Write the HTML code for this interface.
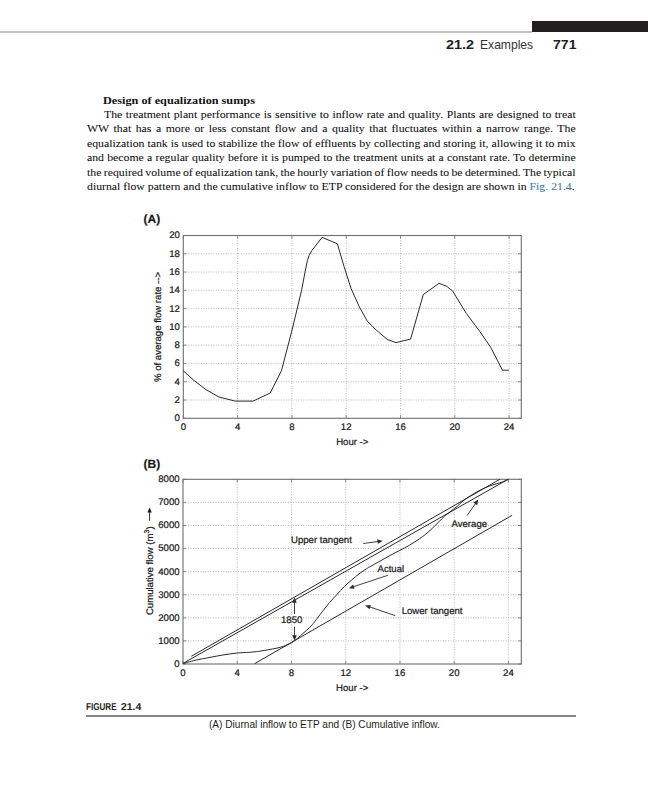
<!DOCTYPE html>
<html><head><meta charset="utf-8"><style>
html,body{margin:0;padding:0;background:#fff;}
body{width:648px;height:800px;position:relative;overflow:hidden;}
.bar{position:absolute;left:532px;top:21.1px;width:116px;height:10.6px;background:#231f20;}
.rule{position:absolute;left:0;top:31px;width:532px;height:2px;background:#c4c4c4;}
.hdr{position:absolute;top:0;left:0;font-family:"Liberation Sans",sans-serif;color:#231f20;white-space:nowrap;line-height:1;}
.bl{position:absolute;font-family:"Liberation Serif",serif;font-size:11.1px;line-height:11.1px;color:#111;white-space:nowrap;text-align:justify;text-align-last:justify;transform-origin:0 0;-webkit-text-stroke:0.07px #111;}
.bl.last{text-align:left;text-align-last:left;}
.lk{color:#3a86c4;}
.hd{position:absolute;font-family:"Liberation Serif",serif;font-weight:bold;font-size:11.3px;line-height:11.3px;color:#111;white-space:nowrap;transform-origin:0 0;transform:scaleX(1.083);}
svg{position:absolute;left:0;top:0;}
svg text{text-rendering:geometricPrecision;font-family:"Liberation Sans",sans-serif;font-size:9.6px;fill:#1a1a1a;stroke:#1a1a1a;stroke-width:0.22px;}
.fig{text-rendering:geometricPrecision;position:absolute;font-family:"Liberation Sans",sans-serif;font-weight:bold;color:#231f20;white-space:nowrap;line-height:1;transform-origin:0 0;}
.frule{position:absolute;left:86.3px;top:715.2px;width:489.7px;height:1.7px;background:#858585;}
.cap{position:absolute;font-family:"Liberation Sans",sans-serif;color:#231f20;white-space:nowrap;line-height:1;transform-origin:0 0;}
</style></head><body>
<div class="bar"></div><div class="rule"></div>
<div class="hdr" style="left:445.8px;top:37.97px;font-size:13.4px;transform:scaleX(1.08);transform-origin:0 0;"><b>21.2</b></div>
<div class="hdr" style="left:480.3px;top:37.97px;font-size:13.4px;transform:scaleX(0.904);transform-origin:0 0;color:#333;">Examples</div>
<div class="hdr" style="left:553.3px;top:37.97px;font-size:13.4px;transform:scaleX(1.05);transform-origin:0 0;"><b>771</b></div>
<div class="hd" style="left:102.7px;top:94.74px;">Design of equalization sumps</div>
<div class="bl" style="top:108.70px;left:104px;width:444.85px;transform:scaleX(1.0604)">The treatment plant performance is sensitive to inflow rate and quality. Plants are designed to treat</div><div class="bl" style="top:123.22px;left:87.1px;width:460.79px;transform:scaleX(1.0604)">WW that has a more or less constant flow and a quality that fluctuates within a narrow range. The</div><div class="bl" style="top:137.74px;left:87.1px;width:460.79px;transform:scaleX(1.0604)">equalization tank is used to stabilize the flow of effluents by collecting and storing it, allowing it to mix</div><div class="bl" style="top:152.26px;left:87.1px;width:460.79px;transform:scaleX(1.0604)">and become a regular quality before it is pumped to the treatment units at a constant rate. To determine</div><div class="bl" style="top:166.78px;left:87.1px;width:460.79px;transform:scaleX(1.0604);word-spacing:-0.62px">the required volume of equalization tank, the hourly variation of flow needs to be determined. The typical</div><div class="bl last" style="top:181.30px;left:87.1px;width:460.79px;transform:scaleX(1.0604)">diurnal flow pattern and the cumulative inflow to ETP considered for the design are shown in <span class="lk">Fig. 21.4</span>.</div>
<svg width="648" height="800" viewBox="0 0 648 800">
<line x1="237.60" y1="235.50" x2="237.60" y2="418.30" stroke="#b0b0b0" stroke-width="0.9" stroke-dasharray="1 1.5"/>
<line x1="291.90" y1="235.50" x2="291.90" y2="418.30" stroke="#b0b0b0" stroke-width="0.9" stroke-dasharray="1 1.5"/>
<line x1="346.20" y1="235.50" x2="346.20" y2="418.30" stroke="#b0b0b0" stroke-width="0.9" stroke-dasharray="1 1.5"/>
<line x1="400.50" y1="235.50" x2="400.50" y2="418.30" stroke="#b0b0b0" stroke-width="0.9" stroke-dasharray="1 1.5"/>
<line x1="454.80" y1="235.50" x2="454.80" y2="418.30" stroke="#b0b0b0" stroke-width="0.9" stroke-dasharray="1 1.5"/>
<line x1="509.10" y1="235.50" x2="509.10" y2="418.30" stroke="#b0b0b0" stroke-width="0.9" stroke-dasharray="1 1.5"/>
<line x1="183.30" y1="400.02" x2="521.30" y2="400.02" stroke="#b0b0b0" stroke-width="0.9" stroke-dasharray="1 1.5"/>
<line x1="183.30" y1="381.74" x2="521.30" y2="381.74" stroke="#b0b0b0" stroke-width="0.9" stroke-dasharray="1 1.5"/>
<line x1="183.30" y1="363.46" x2="521.30" y2="363.46" stroke="#b0b0b0" stroke-width="0.9" stroke-dasharray="1 1.5"/>
<line x1="183.30" y1="345.18" x2="521.30" y2="345.18" stroke="#b0b0b0" stroke-width="0.9" stroke-dasharray="1 1.5"/>
<line x1="183.30" y1="326.90" x2="521.30" y2="326.90" stroke="#b0b0b0" stroke-width="0.9" stroke-dasharray="1 1.5"/>
<line x1="183.30" y1="308.62" x2="521.30" y2="308.62" stroke="#b0b0b0" stroke-width="0.9" stroke-dasharray="1 1.5"/>
<line x1="183.30" y1="290.34" x2="521.30" y2="290.34" stroke="#b0b0b0" stroke-width="0.9" stroke-dasharray="1 1.5"/>
<line x1="183.30" y1="272.06" x2="521.30" y2="272.06" stroke="#b0b0b0" stroke-width="0.9" stroke-dasharray="1 1.5"/>
<line x1="183.30" y1="253.78" x2="521.30" y2="253.78" stroke="#b0b0b0" stroke-width="0.9" stroke-dasharray="1 1.5"/>
<line x1="183.30" y1="418.30" x2="183.30" y2="415.10" stroke="#8c8c8c" stroke-width="1"/>
<line x1="183.30" y1="235.50" x2="183.30" y2="238.70" stroke="#8c8c8c" stroke-width="1"/>
<line x1="237.60" y1="418.30" x2="237.60" y2="415.10" stroke="#8c8c8c" stroke-width="1"/>
<line x1="237.60" y1="235.50" x2="237.60" y2="238.70" stroke="#8c8c8c" stroke-width="1"/>
<line x1="291.90" y1="418.30" x2="291.90" y2="415.10" stroke="#8c8c8c" stroke-width="1"/>
<line x1="291.90" y1="235.50" x2="291.90" y2="238.70" stroke="#8c8c8c" stroke-width="1"/>
<line x1="346.20" y1="418.30" x2="346.20" y2="415.10" stroke="#8c8c8c" stroke-width="1"/>
<line x1="346.20" y1="235.50" x2="346.20" y2="238.70" stroke="#8c8c8c" stroke-width="1"/>
<line x1="400.50" y1="418.30" x2="400.50" y2="415.10" stroke="#8c8c8c" stroke-width="1"/>
<line x1="400.50" y1="235.50" x2="400.50" y2="238.70" stroke="#8c8c8c" stroke-width="1"/>
<line x1="454.80" y1="418.30" x2="454.80" y2="415.10" stroke="#8c8c8c" stroke-width="1"/>
<line x1="454.80" y1="235.50" x2="454.80" y2="238.70" stroke="#8c8c8c" stroke-width="1"/>
<line x1="509.10" y1="418.30" x2="509.10" y2="415.10" stroke="#8c8c8c" stroke-width="1"/>
<line x1="509.10" y1="235.50" x2="509.10" y2="238.70" stroke="#8c8c8c" stroke-width="1"/>
<line x1="183.30" y1="418.30" x2="186.50" y2="418.30" stroke="#8c8c8c" stroke-width="1"/>
<line x1="521.30" y1="418.30" x2="518.10" y2="418.30" stroke="#8c8c8c" stroke-width="1"/>
<line x1="183.30" y1="400.02" x2="186.50" y2="400.02" stroke="#8c8c8c" stroke-width="1"/>
<line x1="521.30" y1="400.02" x2="518.10" y2="400.02" stroke="#8c8c8c" stroke-width="1"/>
<line x1="183.30" y1="381.74" x2="186.50" y2="381.74" stroke="#8c8c8c" stroke-width="1"/>
<line x1="521.30" y1="381.74" x2="518.10" y2="381.74" stroke="#8c8c8c" stroke-width="1"/>
<line x1="183.30" y1="363.46" x2="186.50" y2="363.46" stroke="#8c8c8c" stroke-width="1"/>
<line x1="521.30" y1="363.46" x2="518.10" y2="363.46" stroke="#8c8c8c" stroke-width="1"/>
<line x1="183.30" y1="345.18" x2="186.50" y2="345.18" stroke="#8c8c8c" stroke-width="1"/>
<line x1="521.30" y1="345.18" x2="518.10" y2="345.18" stroke="#8c8c8c" stroke-width="1"/>
<line x1="183.30" y1="326.90" x2="186.50" y2="326.90" stroke="#8c8c8c" stroke-width="1"/>
<line x1="521.30" y1="326.90" x2="518.10" y2="326.90" stroke="#8c8c8c" stroke-width="1"/>
<line x1="183.30" y1="308.62" x2="186.50" y2="308.62" stroke="#8c8c8c" stroke-width="1"/>
<line x1="521.30" y1="308.62" x2="518.10" y2="308.62" stroke="#8c8c8c" stroke-width="1"/>
<line x1="183.30" y1="290.34" x2="186.50" y2="290.34" stroke="#8c8c8c" stroke-width="1"/>
<line x1="521.30" y1="290.34" x2="518.10" y2="290.34" stroke="#8c8c8c" stroke-width="1"/>
<line x1="183.30" y1="272.06" x2="186.50" y2="272.06" stroke="#8c8c8c" stroke-width="1"/>
<line x1="521.30" y1="272.06" x2="518.10" y2="272.06" stroke="#8c8c8c" stroke-width="1"/>
<line x1="183.30" y1="253.78" x2="186.50" y2="253.78" stroke="#8c8c8c" stroke-width="1"/>
<line x1="521.30" y1="253.78" x2="518.10" y2="253.78" stroke="#8c8c8c" stroke-width="1"/>
<line x1="183.30" y1="235.50" x2="186.50" y2="235.50" stroke="#8c8c8c" stroke-width="1"/>
<line x1="521.30" y1="235.50" x2="518.10" y2="235.50" stroke="#8c8c8c" stroke-width="1"/>
<rect x="183.30" y="235.50" width="338.00" height="182.80" fill="none" stroke="#6e6e6e" stroke-width="1.1"/>
<text x="183.30" y="430.10" text-anchor="middle">0</text>
<text x="237.60" y="430.10" text-anchor="middle">4</text>
<text x="291.90" y="430.10" text-anchor="middle">8</text>
<text x="346.20" y="430.10" text-anchor="middle">12</text>
<text x="400.50" y="430.10" text-anchor="middle">16</text>
<text x="454.80" y="430.10" text-anchor="middle">20</text>
<text x="509.10" y="430.10" text-anchor="middle">24</text>
<text x="179.90" y="421.20" text-anchor="end">0</text>
<text x="179.90" y="402.92" text-anchor="end">2</text>
<text x="179.90" y="384.64" text-anchor="end">4</text>
<text x="179.90" y="366.36" text-anchor="end">6</text>
<text x="179.90" y="348.08" text-anchor="end">8</text>
<text x="179.90" y="329.80" text-anchor="end">10</text>
<text x="179.90" y="311.52" text-anchor="end">12</text>
<text x="179.90" y="293.24" text-anchor="end">14</text>
<text x="179.90" y="274.96" text-anchor="end">16</text>
<text x="179.90" y="256.68" text-anchor="end">18</text>
<text x="179.90" y="238.40" text-anchor="end">20</text>
<polyline points="183.30,370.70 193.90,380.40 205.90,389.60 218.90,397.00 235.20,401.10 253.10,401.10 270.20,393.00 281.50,370.70 292.80,327.00 301.60,290.30 305.20,271.20 307.30,260.80 309.10,255.50 311.80,250.70 322.10,237.30 337.40,243.80 344.10,266.70 351.10,288.60 359.30,306.80 367.50,321.50 376.90,330.60 387.20,339.40 396.00,342.60 410.60,339.10 423.30,294.50 439.10,283.30 446.70,286.30 452.60,291.00 466.40,313.60 479.60,331.20 490.70,347.30 502.40,370.20 508.90,370.20" fill="none" stroke="#2a2a2a" stroke-width="1" stroke-linejoin="round"/>
<line x1="237.24" y1="479.30" x2="237.24" y2="664.00" stroke="#b0b0b0" stroke-width="0.9" stroke-dasharray="1 1.5"/>
<line x1="291.48" y1="479.30" x2="291.48" y2="664.00" stroke="#b0b0b0" stroke-width="0.9" stroke-dasharray="1 1.5"/>
<line x1="345.72" y1="479.30" x2="345.72" y2="664.00" stroke="#b0b0b0" stroke-width="0.9" stroke-dasharray="1 1.5"/>
<line x1="399.96" y1="479.30" x2="399.96" y2="664.00" stroke="#b0b0b0" stroke-width="0.9" stroke-dasharray="1 1.5"/>
<line x1="454.20" y1="479.30" x2="454.20" y2="664.00" stroke="#b0b0b0" stroke-width="0.9" stroke-dasharray="1 1.5"/>
<line x1="508.44" y1="479.30" x2="508.44" y2="664.00" stroke="#b0b0b0" stroke-width="0.9" stroke-dasharray="1 1.5"/>
<line x1="183.00" y1="640.91" x2="521.30" y2="640.91" stroke="#b0b0b0" stroke-width="0.9" stroke-dasharray="1 1.5"/>
<line x1="183.00" y1="617.83" x2="521.30" y2="617.83" stroke="#b0b0b0" stroke-width="0.9" stroke-dasharray="1 1.5"/>
<line x1="183.00" y1="594.74" x2="521.30" y2="594.74" stroke="#b0b0b0" stroke-width="0.9" stroke-dasharray="1 1.5"/>
<line x1="183.00" y1="571.65" x2="521.30" y2="571.65" stroke="#b0b0b0" stroke-width="0.9" stroke-dasharray="1 1.5"/>
<line x1="183.00" y1="548.56" x2="521.30" y2="548.56" stroke="#b0b0b0" stroke-width="0.9" stroke-dasharray="1 1.5"/>
<line x1="183.00" y1="525.48" x2="521.30" y2="525.48" stroke="#b0b0b0" stroke-width="0.9" stroke-dasharray="1 1.5"/>
<line x1="183.00" y1="502.39" x2="521.30" y2="502.39" stroke="#b0b0b0" stroke-width="0.9" stroke-dasharray="1 1.5"/>
<line x1="183.00" y1="664.00" x2="183.00" y2="660.80" stroke="#8c8c8c" stroke-width="1"/>
<line x1="183.00" y1="479.30" x2="183.00" y2="482.50" stroke="#8c8c8c" stroke-width="1"/>
<line x1="237.24" y1="664.00" x2="237.24" y2="660.80" stroke="#8c8c8c" stroke-width="1"/>
<line x1="237.24" y1="479.30" x2="237.24" y2="482.50" stroke="#8c8c8c" stroke-width="1"/>
<line x1="291.48" y1="664.00" x2="291.48" y2="660.80" stroke="#8c8c8c" stroke-width="1"/>
<line x1="291.48" y1="479.30" x2="291.48" y2="482.50" stroke="#8c8c8c" stroke-width="1"/>
<line x1="345.72" y1="664.00" x2="345.72" y2="660.80" stroke="#8c8c8c" stroke-width="1"/>
<line x1="345.72" y1="479.30" x2="345.72" y2="482.50" stroke="#8c8c8c" stroke-width="1"/>
<line x1="399.96" y1="664.00" x2="399.96" y2="660.80" stroke="#8c8c8c" stroke-width="1"/>
<line x1="399.96" y1="479.30" x2="399.96" y2="482.50" stroke="#8c8c8c" stroke-width="1"/>
<line x1="454.20" y1="664.00" x2="454.20" y2="660.80" stroke="#8c8c8c" stroke-width="1"/>
<line x1="454.20" y1="479.30" x2="454.20" y2="482.50" stroke="#8c8c8c" stroke-width="1"/>
<line x1="508.44" y1="664.00" x2="508.44" y2="660.80" stroke="#8c8c8c" stroke-width="1"/>
<line x1="508.44" y1="479.30" x2="508.44" y2="482.50" stroke="#8c8c8c" stroke-width="1"/>
<line x1="183.00" y1="664.00" x2="186.20" y2="664.00" stroke="#8c8c8c" stroke-width="1"/>
<line x1="521.30" y1="664.00" x2="518.10" y2="664.00" stroke="#8c8c8c" stroke-width="1"/>
<line x1="183.00" y1="640.91" x2="186.20" y2="640.91" stroke="#8c8c8c" stroke-width="1"/>
<line x1="521.30" y1="640.91" x2="518.10" y2="640.91" stroke="#8c8c8c" stroke-width="1"/>
<line x1="183.00" y1="617.83" x2="186.20" y2="617.83" stroke="#8c8c8c" stroke-width="1"/>
<line x1="521.30" y1="617.83" x2="518.10" y2="617.83" stroke="#8c8c8c" stroke-width="1"/>
<line x1="183.00" y1="594.74" x2="186.20" y2="594.74" stroke="#8c8c8c" stroke-width="1"/>
<line x1="521.30" y1="594.74" x2="518.10" y2="594.74" stroke="#8c8c8c" stroke-width="1"/>
<line x1="183.00" y1="571.65" x2="186.20" y2="571.65" stroke="#8c8c8c" stroke-width="1"/>
<line x1="521.30" y1="571.65" x2="518.10" y2="571.65" stroke="#8c8c8c" stroke-width="1"/>
<line x1="183.00" y1="548.56" x2="186.20" y2="548.56" stroke="#8c8c8c" stroke-width="1"/>
<line x1="521.30" y1="548.56" x2="518.10" y2="548.56" stroke="#8c8c8c" stroke-width="1"/>
<line x1="183.00" y1="525.48" x2="186.20" y2="525.48" stroke="#8c8c8c" stroke-width="1"/>
<line x1="521.30" y1="525.48" x2="518.10" y2="525.48" stroke="#8c8c8c" stroke-width="1"/>
<line x1="183.00" y1="502.39" x2="186.20" y2="502.39" stroke="#8c8c8c" stroke-width="1"/>
<line x1="521.30" y1="502.39" x2="518.10" y2="502.39" stroke="#8c8c8c" stroke-width="1"/>
<line x1="183.00" y1="479.30" x2="186.20" y2="479.30" stroke="#8c8c8c" stroke-width="1"/>
<line x1="521.30" y1="479.30" x2="518.10" y2="479.30" stroke="#8c8c8c" stroke-width="1"/>
<rect x="183.00" y="479.30" width="338.30" height="184.70" fill="none" stroke="#6e6e6e" stroke-width="1.1"/>
<text x="183.00" y="675.80" text-anchor="middle">0</text>
<text x="237.24" y="675.80" text-anchor="middle">4</text>
<text x="291.48" y="675.80" text-anchor="middle">8</text>
<text x="345.72" y="675.80" text-anchor="middle">12</text>
<text x="399.96" y="675.80" text-anchor="middle">16</text>
<text x="454.20" y="675.80" text-anchor="middle">20</text>
<text x="508.44" y="675.80" text-anchor="middle">24</text>
<text x="179.60" y="666.90" text-anchor="end">0</text>
<text x="179.60" y="643.81" text-anchor="end">1000</text>
<text x="179.60" y="620.73" text-anchor="end">2000</text>
<text x="179.60" y="597.64" text-anchor="end">3000</text>
<text x="179.60" y="574.55" text-anchor="end">4000</text>
<text x="179.60" y="551.46" text-anchor="end">5000</text>
<text x="179.60" y="528.38" text-anchor="end">6000</text>
<text x="179.60" y="505.29" text-anchor="end">7000</text>
<text x="179.60" y="482.20" text-anchor="end">8000</text>
<line x1="183" y1="663.4" x2="508.4" y2="479.1" stroke="#2a2a2a" stroke-width="1"/>
<line x1="191.3" y1="656.3" x2="499.9" y2="479.3" stroke="#2a2a2a" stroke-width="1"/>
<line x1="254.5" y1="663.7" x2="512.1" y2="515.3" stroke="#2a2a2a" stroke-width="1"/>
<path d="M183.00,663.60 C185.00,663.05 190.50,661.33 195.00,660.30 C199.50,659.27 205.17,658.32 210.00,657.40 C214.83,656.48 219.58,655.52 224.00,654.80 C228.42,654.08 232.28,653.52 236.50,653.10 C240.72,652.68 245.63,652.58 249.30,652.30 C252.97,652.02 255.42,651.82 258.50,651.40 C261.58,650.98 264.72,650.35 267.80,649.80 C270.88,649.25 274.38,648.68 277.00,648.10 C279.62,647.52 281.33,647.07 283.50,646.30 C285.67,645.53 288.15,644.43 290.00,643.50 C291.85,642.57 292.55,642.27 294.60,640.70 C296.65,639.13 299.77,636.33 302.30,634.10 C304.83,631.87 307.73,629.37 309.80,627.30 C311.87,625.23 312.65,624.27 314.70,621.70 C316.75,619.13 319.63,615.08 322.10,611.90 C324.57,608.72 327.03,605.48 329.50,602.60 C331.97,599.72 334.43,597.28 336.90,594.60 C339.37,591.92 341.83,588.93 344.30,586.50 C346.77,584.07 349.23,582.12 351.70,580.00 C354.17,577.88 356.63,575.67 359.10,573.80 C361.57,571.93 364.68,569.98 366.50,568.80 C368.32,567.62 367.77,567.97 370.00,566.70 C372.23,565.43 376.60,563.05 379.90,561.20 C383.20,559.35 386.52,557.38 389.80,555.60 C393.08,553.82 396.32,552.23 399.60,550.50 C402.88,548.77 406.20,547.15 409.50,545.20 C412.80,543.25 416.72,540.62 419.40,538.80 C422.08,536.98 423.43,536.07 425.60,534.30 C427.77,532.53 430.18,530.28 432.40,528.20 C434.62,526.12 436.90,523.78 438.90,521.80 C440.90,519.82 442.23,518.20 444.40,516.30 C446.57,514.40 449.73,512.10 451.90,510.40 C454.07,508.70 455.55,507.67 457.40,506.10 C459.25,504.53 460.52,502.92 463.00,501.00 C465.48,499.08 469.47,496.38 472.30,494.60 C475.13,492.82 477.12,491.73 480.00,490.30 C482.88,488.87 485.85,487.40 489.60,486.00 C493.35,484.60 499.37,483.02 502.50,481.90 C505.63,480.78 507.42,479.73 508.40,479.30" fill="none" stroke="#2a2a2a" stroke-width="1"/>
<line x1="363.20" y1="543.50" x2="378.54" y2="541.46" stroke="#2a2a2a" stroke-width="0.9"/><polygon points="382.70,540.90 377.85,543.87 377.24,539.31" fill="#2a2a2a"/>
<line x1="387.90" y1="575.30" x2="352.89" y2="586.88" stroke="#2a2a2a" stroke-width="0.9"/><polygon points="348.90,588.20 353.11,584.38 354.56,588.75" fill="#2a2a2a"/>
<line x1="395.20" y1="615.60" x2="369.18" y2="606.75" stroke="#2a2a2a" stroke-width="0.9"/><polygon points="365.20,605.40 370.86,604.90 369.38,609.25" fill="#2a2a2a"/>
<line x1="467.20" y1="515.40" x2="475.89" y2="503.04" stroke="#2a2a2a" stroke-width="0.9"/><polygon points="478.30,499.60 477.19,505.18 473.43,502.53" fill="#2a2a2a"/>
<line x1="294.50" y1="614.00" x2="294.50" y2="601.70" stroke="#2a2a2a" stroke-width="0.9"/><polygon points="294.50,597.50 296.80,602.70 292.20,602.70" fill="#2a2a2a"/>
<line x1="294.50" y1="626.80" x2="294.50" y2="636.20" stroke="#2a2a2a" stroke-width="0.9"/><polygon points="294.50,640.40 292.20,635.20 296.80,635.20" fill="#2a2a2a"/>
<text x="291.0" y="542.5">Upper tangent</text>
<text x="377.5" y="571.9">Actual</text>
<text x="401.7" y="613.8">Lower tangent</text>
<text x="451.5" y="527">Average</text>
<text x="281" y="622.9">1850</text>
<text x="352.3" y="444.9" text-anchor="middle">Hour -&gt;</text>
<text x="352.2" y="690.6" text-anchor="middle">Hour -&gt;</text>
<text transform="translate(160.6,327) rotate(-90)" text-anchor="middle">% of average flow rate --&gt;</text>
<text transform="translate(153,615.1) rotate(-90)">Cumulative flow (m<tspan dy="-4" style="font-size:7px">3</tspan><tspan dy="4">)</tspan></text>
<line x1="149.6" y1="520.8" x2="149.6" y2="511" stroke="#1a1a1a" stroke-width="0.9"/><polygon points="149.6,507.6 147.4,512.6 151.8,512.6" fill="#1a1a1a"/>
<text x="143.6" y="223.3" style="font-weight:bold;font-size:12px">(A)</text>
<text x="143.6" y="467.7" style="font-weight:bold;font-size:12px">(B)</text>
</svg>
<div class="fig" style="left:86.3px;top:703.13px;font-size:10.0px;transform:scaleX(0.81);">FIGURE</div>
<div class="fig" style="left:120.6px;top:703.13px;font-size:10.0px;transform:scaleX(1.04);">21.4</div>
<div class="frule"></div>
<div class="cap" style="left:208.6px;top:718.81px;font-size:10.6px;transform:scaleX(0.9548);">(A) Diurnal inflow to ETP and (B) Cumulative inflow.</div>
</body></html>
